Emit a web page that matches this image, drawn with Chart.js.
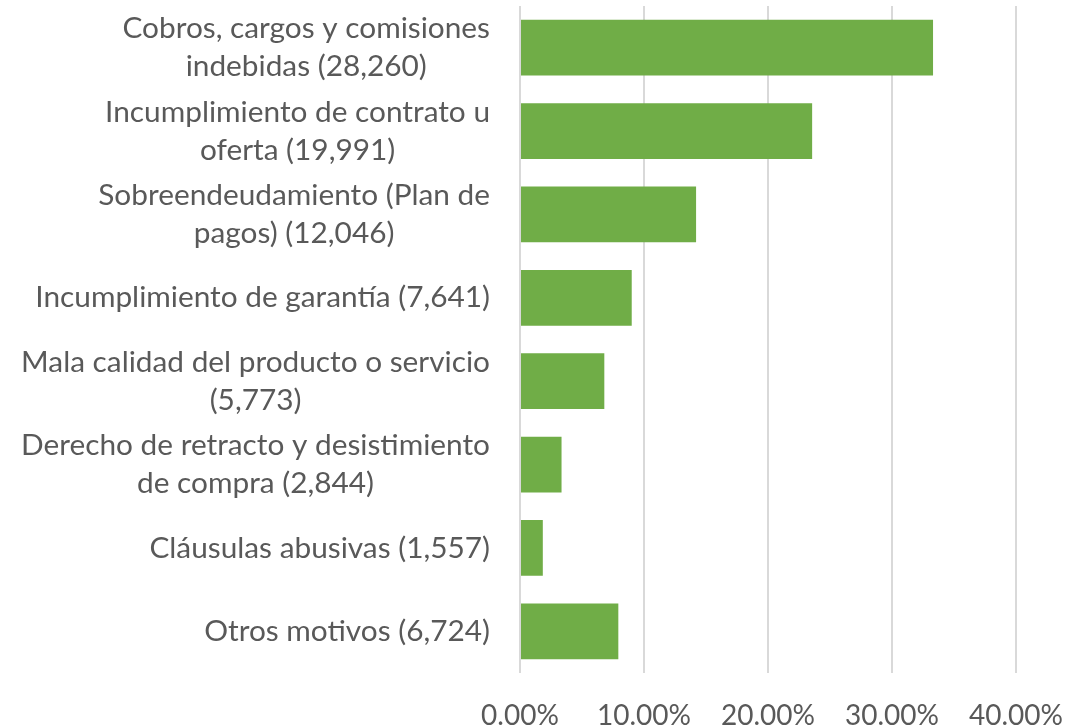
<!DOCTYPE html>
<html>
<head>
<meta charset="utf-8">
<script src="https://cdn.jsdelivr.net/npm/chart.js@4"></script>
<style>
  html, body { margin: 0; padding: 0; background: #fff; }
  #wrap { width: 1089px; height: 728px; }
</style>
</head>
<body>
<div id="wrap"><canvas id="chart"></canvas></div>
<script>
// categorias (con numero de quejas)
const categorias = [
    ["Cobros, cargos y comisiones", "indebidas (28,260)"],
    ["Incumplimiento de contrato u", "oferta (19,991)"],
    ["Sobreendeudamiento (Plan de", "pagos) (12,046)"],
    "Incumplimiento de garantía (7,641)",
    ["Mala calidad del producto o servicio", "(5,773)"],
    ["Derecho de retracto y desistimiento", "de compra (2,844)"],
    "Cláusulas abusivas (1,557)",
    "Otros motivos (6,724)"
];
// porcentaje del total
const porcentajes = [33.31, 23.56, 14.20, 9.01, 6.80, 3.35, 1.84, 7.93];
const ejeMax = 40;
const ejePaso = 10;

const gris = "#595959";
const familia = "Lato, 'Open Sans', sans-serif";
const tamEtiqueta = 29.8;
const altoLinea = 38;

// etiquetas del eje y: bloque alineado a la derecha, lineas centradas (como Excel)
const etiquetasY = {
    id: "etiquetasY",
    afterDraw(chart) {
        const escala = chart.scales.y;
        const c = chart.ctx;
        c.save();
        c.font = tamEtiqueta + "px " + familia;
        c.fillStyle = gris;
        c.textAlign = "center";
        c.textBaseline = "middle";
        chart.data.labels.forEach((etq, i) => {
            const lineas = Array.isArray(etq) ? etq : [etq];
            const ancho = Math.max(...lineas.map(l => c.measureText(l).width));
            const cx = escala.right - 30 - ancho / 2;
            const arriba = escala.getPixelForTick(i) - lineas.length * altoLinea / 2;
            lineas.forEach((l, k) => c.fillText(l, cx, arriba + altoLinea * (k + 0.5)));
        });
        c.restore();
    }
};

let ctx = document.getElementById("chart").getContext("2d");
new Chart(ctx, {
    type: "bar",
    data: {
        labels: categorias,
        datasets: [{
            data: porcentajes,
            backgroundColor: "#70AD47",
            borderWidth: 0,
            barPercentage: 0.67,
            categoryPercentage: 1
        }]
    },
    options: {
        indexAxis: "y",
        responsive: true,
        maintainAspectRatio: false,
        animation: false,
        layout: { padding: { top: 6, right: 29, bottom: 0, left: 0 } },
        plugins: {
            legend: { display: false },
            tooltip: { enabled: false }
        },
        scales: {
            x: {
                min: 0,
                max: ejeMax,
                border: { display: false },
                grid: { color: "#d9d9d9", lineWidth: 2, drawTicks: false },
                afterFit: scale => { scale.height = 55; },
                ticks: {
                    stepSize: ejePaso,
                    color: gris,
                    font: { family: familia, size: 28, lineHeight: 1.2 },
                    padding: 26,
                    maxRotation: 0,
                    callback: v => v.toFixed(2) + "%"
                }
            },
            y: {
                border: { display: false },
                grid: { display: false, drawTicks: false },
                afterFit: scale => {
                    scale.width = 520;
                    scale.paddingTop = 0;
                    scale.paddingBottom = 0;
                },
                ticks: { display: false, autoSkip: false }
            }
        }
    },
    plugins: [etiquetasY]
});
</script>
</body>
</html>
